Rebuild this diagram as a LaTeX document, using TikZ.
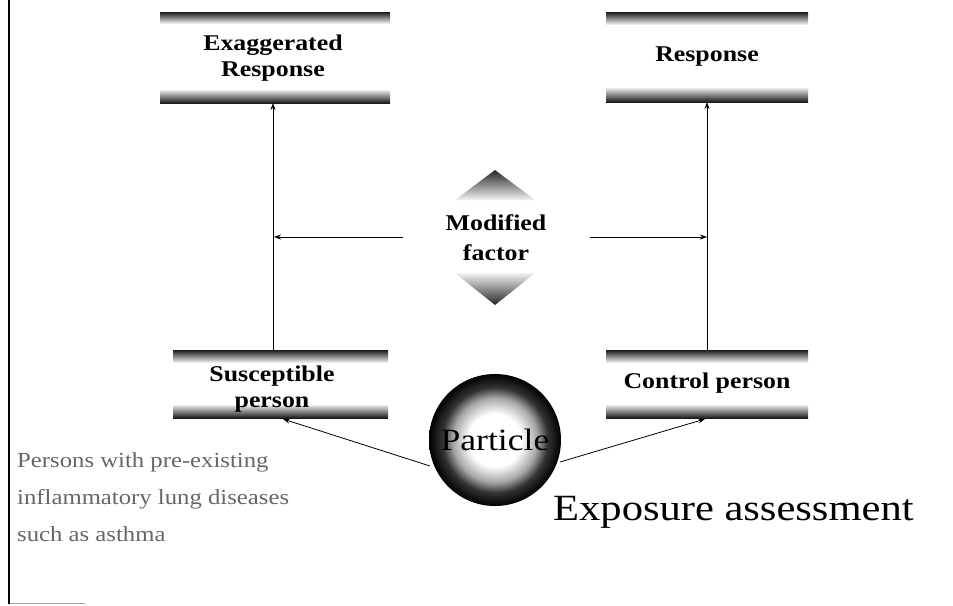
\documentclass[tikz,border=0pt]{standalone}
\usepackage{fontspec}
\setmainfont{Liberation Serif}
\newfontfamily\widefont[FakeStretch=1.15]{Liberation Serif}
\usetikzlibrary{arrows.meta}
\begin{document}
\pgfdeclareradialshading{particleshade}{\pgfpoint{0bp}{0bp}}{color(0bp)=(white); color(10bp)=(white); color(16bp)=(black!35); color(20bp)=(black!80); color(25bp)=(black); color(50bp)=(black)}
\begin{tikzpicture}[x=1pt,y=-1pt,
  lbl/.style={font=\widefont\fontsize{22.5}{26}\selectfont\bfseries, align=center, inner sep=0pt},
  bandtop/.style={top color=black!90, bottom color=black!8},
  bandbot/.style={top color=black!8, bottom color=black!90},
  conn/.style={line width=0.8pt, -{Stealth[length=7pt,width=5pt]}}]
\useasboundingbox (0,0) rectangle (953,605);
% frame marks
\draw[line width=2.5pt] (9,0) -- (9,604);
\draw[black!35, line width=1pt] (10,603) -- (85,603);
% top-left box
\shade[bandtop] (160,12) rectangle (390,23);
\shade[bandbot] (160,90) rectangle (390,103);
\node[lbl] (exag) at (273,58) {Exaggerated\\Response};
\coordinate (exagb) at (273,103);
% top-right box
\shade[bandtop] (606,12) rectangle (808,24);
\shade[bandbot] (606,88) rectangle (808,102);
\node[lbl] (resp) at (707,57) {Response};
\coordinate (respb) at (707,102);
% bottom-left box
\shade[bandtop] (173,350) rectangle (388,362);
\shade[bandbot] (173,405) rectangle (388,418);
\node[lbl] (susc) at (272,389) {Susceptible\\person};
\coordinate (susct) at (273,350);
\coordinate (suscb) at (283,419);
% bottom-right box
\shade[bandtop] (606,350) rectangle (808,362);
\shade[bandbot] (606,405) rectangle (808,418);
\node[lbl] (ctrl) at (707,383) {Control person};
\coordinate (ctrlt) at (707,350);
\coordinate (ctrlb) at (705,419);
% diamond
\shade[top color=black!85, bottom color=black!5] (455,200) -- (495,170) -- (535,200) -- cycle;
\shade[top color=black!5, bottom color=black!85] (455,273) -- (495,305) -- (535,273) -- cycle;
\node[lbl, font=\widefont\fontsize{22.5}{30}\selectfont\bfseries] (mod) at (496,238) {Modified\\factor};
\coordinate (modl) at (403,237);
\coordinate (modr) at (590,237);
\coordinate (lefthit) at (274,237);
\coordinate (righthit) at (707,237);
% particle
\shade[shading=particleshade] (495,440) circle (66);
\node[font=\widefont\fontsize{31}{34}\selectfont, inner sep=0pt] (part) at (495,440) {Particle};
\coordinate (partl) at (430,466);
\coordinate (partr) at (560,462);
% texts
\node[font=\widefont\fontsize{21.5}{37}\selectfont, text=black!60, align=left, anchor=north west, inner sep=0pt] (pers) at (17,452) {Persons with pre-existing\\inflammatory lung diseases\\such as asthma};
\node[font=\widefont\fontsize{37}{40}\selectfont, anchor=west, inner sep=0pt] (expo) at (553,512) {Exposure assessment};
% connectors
\draw[conn] (susct) -- (exagb);
\draw[conn] (ctrlt) -- (respb);
\draw[conn] (modl) -- (lefthit);
\draw[conn] (modr) -- (righthit);
\draw[conn] (partl) -- (suscb);
\draw[conn] (partr) -- (ctrlb);
\end{tikzpicture}
\end{document}
